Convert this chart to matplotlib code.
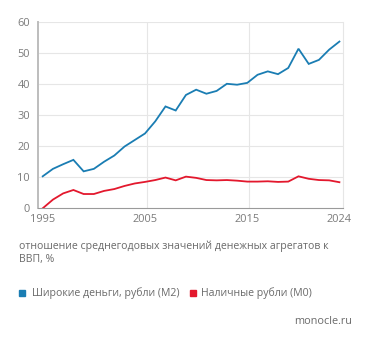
import matplotlib
matplotlib.use("Agg")
import matplotlib.pyplot as plt
from matplotlib.patches import Rectangle

plt.rcParams['font.family'] = ['Open Sans', 'DejaVu Sans']

years = list(range(1995, 2025))
m2 = [10.3, 12.7, 14.2, 15.6, 11.9, 12.7, 15.0, 17.0, 19.9, 22.0,
      24.1, 28.0, 32.8, 31.5, 36.5, 38.2, 36.9, 37.8, 40.1, 39.8,
      40.4, 43.0, 44.1, 43.2, 45.2, 51.4, 46.5, 47.8, 51.1, 53.7]
m0 = [0.0, 2.8, 4.8, 5.9, 4.6, 4.6, 5.6, 6.2, 7.2, 8.0,
      8.5, 9.1, 9.9, 9.0, 10.2, 9.8, 9.1, 9.0, 9.1, 8.9,
      8.6, 8.6, 8.7, 8.5, 8.6, 10.3, 9.5, 9.1, 9.0, 8.4]
xticks = [1995, 2005, 2015, 2024]
yticks = [0, 10, 20, 30, 40, 50, 60]
caption = "отношение среднегодовых значений денежных агрегатов к\nВВП, %"
legend_labels = ["Широкие деньги, рубли (М2)", "Наличные рубли (М0)"]
source = "monocle.ru"

blue = "#1a7db3"
red = "#e3182d"
W, H = 371, 343
fig = plt.figure(figsize=(W / 100, H / 100), dpi=100)
ax = fig.add_axes([38.3 / W, 1 - 208.3 / H, (343.5 - 38.3) / W, (208.3 - 22) / H])

ax.plot(years, m2, color=blue, lw=1.3, solid_joinstyle='miter', zorder=3)
ax.plot(years, m0, color=red, lw=1.3, solid_joinstyle='miter', zorder=3)

ax.set_xlim(1994.57, 2024.4)
ax.set_ylim(0, 60)
ax.set_yticks(yticks)
ax.set_xticks(xticks)
ax.tick_params(length=0, labelsize=7.9, colors="#7a7a7a", pad=4)
ax.tick_params(axis='y', pad=6)
for y in yticks[1:]:
    ax.axhline(y, color="#e6e6e6", lw=0.8, zorder=1)
for x in [2005, 2015]:
    ax.axvline(x + 0.2, color="#e6e6e6", lw=0.8, zorder=1)
ax.spines['top'].set_visible(False)
ax.spines['right'].set_color("#e6e6e6")
ax.spines['right'].set_linewidth(0.8)
ax.spines['left'].set_color("#bdbdbd")
ax.spines['left'].set_linewidth(1.4)
ax.spines['bottom'].set_color("#9a9a9a")
ax.spines['bottom'].set_linewidth(0.8)

fig.text(19 / W, 1 - 253 / H, caption, fontsize=7.6, color="#6a6a6a",
         va='center', ha='left', linespacing=1.3)

ly = 1 - 293 / H
for xs, xt, c, lab in [(19, 32, blue, legend_labels[0]), (190, 201, red, legend_labels[1])]:
    fig.patches.append(Rectangle((xs / W, ly - 2.6 / H), 5.5 / W, 5.5 / H,
                                 transform=fig.transFigure, color=c))
    fig.text(xt / W, ly, lab, fontsize=7.6, color="#6a6a6a", va='center', ha='left')

fig.text(352 / W, 1 - 321 / H, source, fontsize=7.8, color="#6a6a6a", va='center', ha='right')

fig.savefig("out.png", dpi=100, facecolor="white")
